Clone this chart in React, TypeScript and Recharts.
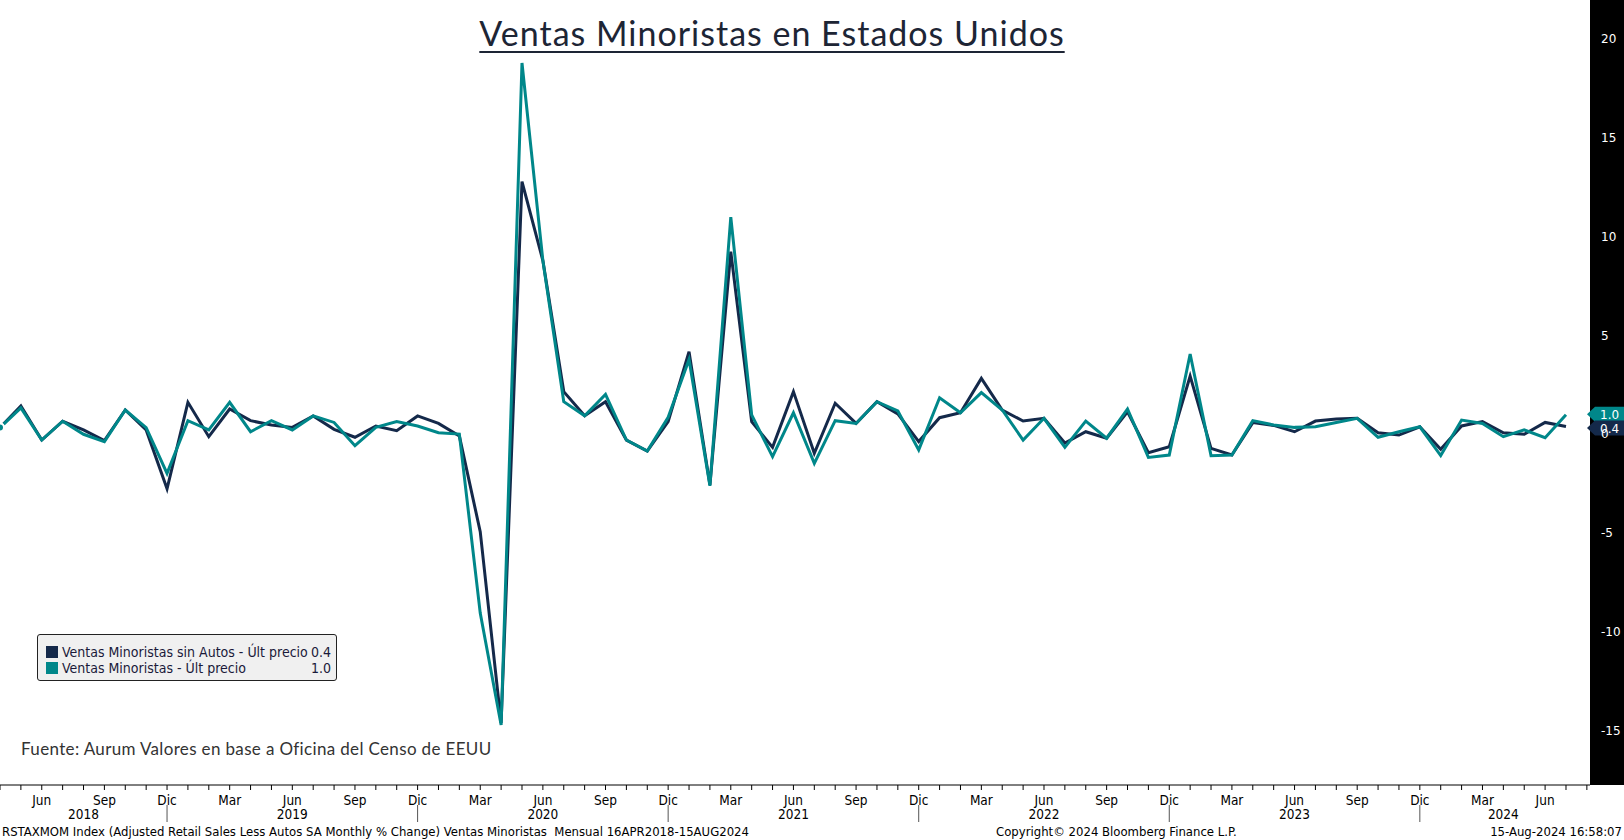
import { LineChart, Line, XAxis, YAxis, ReferenceDot } from "recharts"

// Monthly periods, Apr 2018 - Jul 2024
const periods = [
  "2018-04", "2018-05", "2018-06", "2018-07", "2018-08", "2018-09", "2018-10", "2018-11", "2018-12",
  "2019-01", "2019-02", "2019-03", "2019-04", "2019-05", "2019-06", "2019-07", "2019-08", "2019-09", "2019-10", "2019-11", "2019-12",
  "2020-01", "2020-02", "2020-03", "2020-04", "2020-05", "2020-06", "2020-07", "2020-08", "2020-09", "2020-10", "2020-11", "2020-12",
  "2021-01", "2021-02", "2021-03", "2021-04", "2021-05", "2021-06", "2021-07", "2021-08", "2021-09", "2021-10", "2021-11", "2021-12",
  "2022-01", "2022-02", "2022-03", "2022-04", "2022-05", "2022-06", "2022-07", "2022-08", "2022-09", "2022-10", "2022-11", "2022-12",
  "2023-01", "2023-02", "2023-03", "2023-04", "2023-05", "2023-06", "2023-07", "2023-08", "2023-09", "2023-10", "2023-11", "2023-12",
  "2024-01", "2024-02", "2024-03", "2024-04", "2024-05", "2024-06", "2024-07",
]

// Ventas Minoristas sin Autos (% m/m)
const sinAutos = [
  0.35, 1.45, -0.28, 0.67, 0.23, -0.31, 1.24, 0.23, -2.75,
  1.63, -0.11, 1.29, 0.7, 0.48, 0.36, 0.94, 0.26, -0.14, 0.43, 0.19, 0.94,
  0.56, -0.08, -4.92, -14.6, 12.8, 8.8, 2.17, 0.95, 1.66, -0.28, -0.84, 0.65,
  4.19, -2.55, 9.25, 0.65, -0.65, 2.17, -0.95, 1.58, 0.56, 1.66, 1.04, -0.36,
  0.85, 1.1, 2.84, 1.24, 0.68, 0.82, -0.43, 0.14, -0.19, 1.15, -0.92, -0.62,
  2.96, -0.7, -1.04, 0.6, 0.46, 0.14, 0.68, 0.78, 0.82, 0.09, -0.03, 0.39,
  -0.75, 0.43, 0.65, 0.09, 0.01, 0.61, 0.4,
]

// Ventas Minoristas (% m/m)
const ventas = [
  0.35, 1.35, -0.28, 0.67, 0.01, -0.36, 1.24, 0.35, -1.97,
  0.7, 0.23, 1.63, 0.14, 0.7, 0.23, 0.94, 0.61, -0.57, 0.36, 0.65, 0.43,
  0.09, 0.02, -9.04, -14.7, 18.8, 8.8, 1.66, 0.95, 2.03, -0.28, -0.84, 0.87,
  3.8, -2.6, 11.0, 0.99, -1.12, 1.1, -1.46, 0.7, 0.56, 1.66, 1.19, -0.78,
  1.86, 1.1, 2.12, 1.24, -0.28, 0.82, -0.65, 0.68, -0.19, 1.29, -1.16, -1.04,
  4.07, -1.07, -1.04, 0.7, 0.48, 0.36, 0.39, 0.61, 0.82, -0.14, 0.14, 0.39,
  -1.07, 0.73, 0.56, -0.11, 0.23, -0.16, 1.0,
]

const yTicks = [-15, -10, -5, 0, 5, 10, 15, 20]
const monthNames: Record<number, string> = { 3: "Mar", 6: "Jun", 9: "Sep", 12: "Dic" }
const yearLabels = [
  { year: "2018", at: "2018-08" },
  { year: "2019", at: "2019-06" },
  { year: "2020", at: "2020-06" },
  { year: "2021", at: "2021-06" },
  { year: "2022", at: "2022-06" },
  { year: "2023", at: "2023-06" },
  { year: "2024", at: "2024-04" },
]

const NAVY = "#14294a"
const TEAL = "#00878a"
const W = 1624
const H = 840
const PLOT_RIGHT = 1590
const AXIS_Y = 785
const BBG = '"Liberation Sans Narrow", "DejaVu Sans Condensed", "Liberation Sans", sans-serif'
const ROUND = 'Lato, "Noto Sans", sans-serif'

const data = periods.map((p, i) => ({ i, period: p, sinAutos: sinAutos[i], ventas: ventas[i] }))
const xTicks = [...data.map((d) => d.i), data.length]

function MonthTick(props: any) {
  const { x, payload } = props
  const p = periods[payload.value]
  const m = p ? Number(p.slice(5)) : 0
  const label = monthNames[m]
  const yr = yearLabels.find((y) => y.at === p)
  return (
    <g>
      <line x1={x} x2={x} y1={AXIS_Y} y2={AXIS_Y + 5} stroke="#000" />
      {label && (
        <text x={x} y={AXIS_Y + 15} textAnchor="middle" dominantBaseline="central" fontSize={13.5} fontFamily={BBG} fill="#000">
          {label}
        </text>
      )}
      {m === 12 && <line x1={x} x2={x} y1={AXIS_Y + 20} y2={AXIS_Y + 37} stroke="#555" />}
      {yr && (
        <text x={x} y={AXIS_Y + 29} textAnchor="middle" dominantBaseline="central" fontSize={13.5} fontFamily={BBG} fill="#000">
          {yr.year}
        </text>
      )}
    </g>
  )
}

function ValueTick(props: any) {
  const { y, payload } = props
  return (
    <text x={1601} y={y} dominantBaseline="central" fontSize={12} fontFamily='"DejaVu Sans", sans-serif' fill="#fff">
      {payload.value}
    </text>
  )
}

const lastTag = (color: string, text: string, shift: number) => (props: any) => {
  const cy = props.cy + shift
  const h = 7.5
  return (
    <g>
      <polygon
        points={`${PLOT_RIGHT - 3},${cy} ${PLOT_RIGHT + 5},${cy - h} ${W},${cy - h} ${W},${cy + h} ${PLOT_RIGHT + 5},${cy + h}`}
        fill={color}
      />
      <text x={1600} y={cy + 0.5} dominantBaseline="central" fontSize={12} fontFamily='"DejaVu Sans", sans-serif' fill="#fff">
        {text}
      </text>
    </g>
  )
}

export default function App() {
  return (
    <div style={{ position: "absolute", left: 0, top: 0, width: W, height: H, background: "#fff", overflow: "hidden" }}>
      <div style={{ position: "absolute", left: PLOT_RIGHT, top: 0, width: W - PLOT_RIGHT, height: AXIS_Y, background: "#000" }} />
      <div style={{ position: "absolute", left: 0, top: 0 }}>
        <LineChart width={W} height={H} data={data} margin={{ top: 0, right: 0, bottom: 0, left: 0 }}>
          <XAxis
            dataKey="i"
            type="number"
            domain={[0, 76.15]}
            ticks={xTicks}
            interval={0}
            allowDataOverflow
            height={H - AXIS_Y}
            axisLine={{ stroke: "#000", strokeWidth: 1 }}
            tickLine={false}
            tick={<MonthTick />}
          />
          <YAxis
            orientation="right"
            type="number"
            width={W - PLOT_RIGHT}
            domain={[-17.74, 21.99]}
            ticks={yTicks}
            allowDataOverflow
            axisLine={false}
            tickLine={false}
            tick={<ValueTick />}
          />
          <Line
            dataKey="sinAutos"
            type="linear"
            stroke={NAVY}
            strokeWidth={3}
            strokeLinejoin="miter"
            dot={false}
            isAnimationActive={false}
          />
          <Line
            dataKey="ventas"
            type="linear"
            stroke={TEAL}
            strokeWidth={3}
            strokeLinejoin="miter"
            dot={false}
            isAnimationActive={false}
          />
          <ReferenceDot x={75} y={ventas[ventas.length - 1]} shape={lastTag(TEAL, "1.0", -0.5)} ifOverflow="visible" />
          <ReferenceDot x={75} y={sinAutos[sinAutos.length - 1]} shape={lastTag(NAVY, "0.4", 1.5)} ifOverflow="visible" />
        </LineChart>
      </div>

      <div
        style={{
          position: "absolute",
          left: 0,
          top: 13,
          width: 1544,
          textAlign: "center",
          fontFamily: ROUND,
          fontSize: 34,
          lineHeight: "40px",
          color: "#1d2535",
          letterSpacing: 1,
        }}
      >
        <span style={{ textDecoration: "underline", textDecorationThickness: 2, textUnderlineOffset: 5 }}>
          Ventas Minoristas en Estados Unidos
        </span>
      </div>

      <div
        style={{
          position: "absolute",
          left: 37,
          top: 634,
          width: 298,
          height: 45,
          boxSizing: "content-box",
          border: "1px solid #222",
          borderRadius: 3,
          background: "#f0f0f0",
          fontFamily: BBG,
          fontSize: 14,
          color: "#1a1a3a",
        }}
      >
        {[
          { color: NAVY, name: "Ventas Minoristas sin Autos - Últ precio", last: "0.4" },
          { color: TEAL, name: "Ventas Minoristas - Últ precio", last: "1.0" },
        ].map((r, k) => (
          <div key={k} style={{ position: "absolute", left: 8, top: 9 + k * 16, width: 285, height: 16, display: "flex", alignItems: "center" }}>
            <span style={{ width: 12, height: 12, background: r.color, marginRight: 4 }} />
            <span style={{ flex: 1 }}>{r.name}</span>
            <span>{r.last}</span>
          </div>
        ))}
      </div>

      <div style={{ position: "absolute", left: 21, top: 738, fontFamily: ROUND, fontSize: 17, letterSpacing: 0.35, color: "#333" }}>
        Fuente: Aurum Valores en base a Oficina del Censo de EEUU
      </div>

      <div style={{ position: "absolute", left: 2, top: 824, fontFamily: BBG, fontSize: 13, color: "#000", whiteSpace: "pre" }}>
        RSTAXMOM Index (Adjusted Retail Sales Less Autos SA Monthly % Change) Ventas Minoristas  Mensual 16APR2018-15AUG2024
      </div>
      <div style={{ position: "absolute", left: 996, top: 824, fontFamily: BBG, fontSize: 13, color: "#000" }}>
        Copyright© 2024 Bloomberg Finance L.P.
      </div>
      <div style={{ position: "absolute", right: 2, top: 824, fontFamily: BBG, fontSize: 13, color: "#000" }}>
        15-Aug-2024 16:58:07
      </div>
    </div>
  )
}
